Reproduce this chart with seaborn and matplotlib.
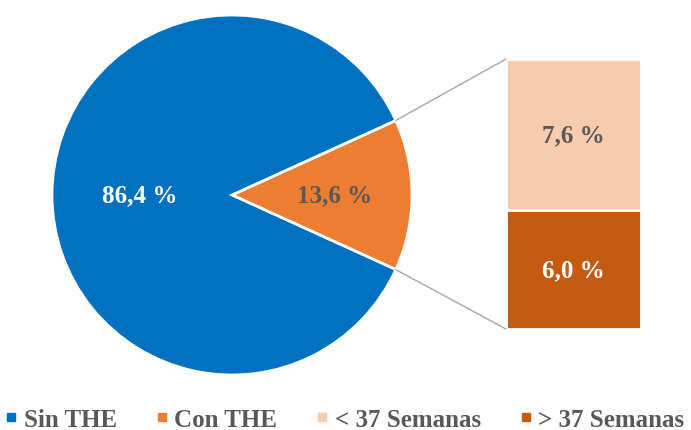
import numpy as np
import matplotlib
matplotlib.use("Agg")
import matplotlib.pyplot as plt
from matplotlib.lines import Line2D
import seaborn as sns

pie_labels = ["Sin THE", "Con THE"]
pie_values = [86.4, 13.6]
pie_texts = ["86,4 %", "13,6 %"]
bar_labels = ["< 37 Semanas", "> 37 Semanas"]
bar_values = [7.6, 6.0]
bar_texts = ["7,6 %", "6,0 %"]

blue = "#0070C0"
orange = "#ED7D31"
light = "#F8CBAD"
dark = "#C55A11"
text_gray = "#595959"

sns.set_theme(style="white")
plt.rcParams["font.family"] = ["Liberation Serif", "DejaVu Serif"]
plt.rcParams["font.weight"] = "bold"

W, H = 691, 431
fig = plt.figure(figsize=(W / 100, H / 100), dpi=100)
ax = fig.add_axes([0, 0, 1, 1])

# pie, orange slice centred on the right side
cx, cy, r = 232, 235, 180
half = pie_values[1] / 100 * 360 / 2
ax.pie(
    [pie_values[1], pie_values[0]],
    colors=[orange, blue],
    startangle=-half,
    center=(cx, cy),
    radius=r,
    frame=True,
    wedgeprops=dict(edgecolor="white", linewidth=2),
)
ax.set_xlim(0, W)
ax.set_ylim(0, H)
ax.set_aspect("equal")
ax.axis("off")

fs = 18
ax.text(cx - 0.51 * r, cy, pie_texts[0], color="white", fontsize=fs,
        fontweight="bold", ha="center", va="center")
ax.text(cx + 0.57 * r, cy, pie_texts[1], color=text_gray, fontsize=fs,
        fontweight="bold", ha="center", va="center")

# stacked bar on the right
bar_x, bar_w, bar_bottom, bar_h = 573.5, 135, 101, 270
scale = bar_h / sum(bar_values)
bottom = bar_bottom
stack = list(zip(bar_values[::-1], [dark, light], bar_texts[::-1],
                 ["white", text_gray]))
for val, col, txt, tcol in stack:
    ax.bar(bar_x, val * scale, width=bar_w, bottom=bottom, color=col,
           edgecolor="white", linewidth=2)
    ax.text(bar_x, bottom + val * scale / 2, txt, color=tcol, fontsize=fs,
            fontweight="bold", ha="center", va="center")
    bottom += val * scale

# connector lines
a = np.deg2rad(half)
ex, ey = cx + r * np.cos(a), r * np.sin(a)
left = bar_x - bar_w / 2
ax.plot([ex, left], [cy + ey, bar_bottom + bar_h], color="#A6A6A6", lw=1)
ax.plot([ex, left], [cy - ey, bar_bottom], color="#A6A6A6", lw=1)

handles = [Line2D([], [], marker="s", ls="", color=c, markersize=6)
           for c in [blue, orange, light, dark]]
fig.legend(handles, pie_labels + bar_labels, loc="lower center",
           bbox_to_anchor=(0.5, -0.055), ncol=4, frameon=False,
           handlelength=0.4, handletextpad=0.3, columnspacing=1.6,
           prop=dict(size=18, weight="bold"), labelcolor=text_gray)

fig.savefig("out.png", dpi=100)
